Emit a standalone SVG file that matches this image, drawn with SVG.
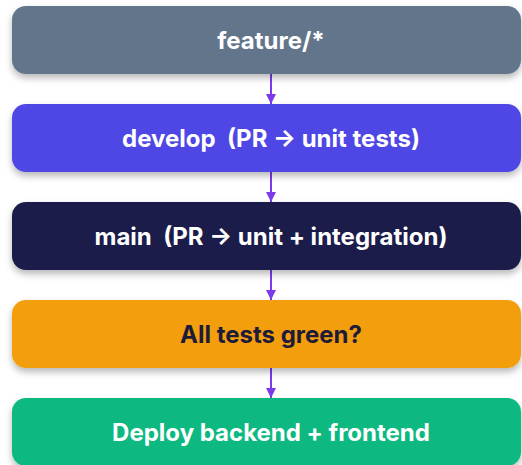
<svg xmlns="http://www.w3.org/2000/svg" width="522" height="465" viewBox="0 0 522 465">
  <defs>
    <filter id="shadow" x="-10%" y="-30%" width="120%" height="170%">
      <feDropShadow dx="0" dy="4" stdDeviation="3.5" flood-color="#000000" flood-opacity="0.28"/>
    </filter>
    <marker id="arrowhead" viewBox="0 0 10 10" refX="10" refY="5" markerWidth="10" markerHeight="10" markerUnits="userSpaceOnUse" orient="auto">
      <path d="M0,0 L10,5 L0,10 z" fill="#7c3aed"/>
    </marker>
  </defs>
  <style>
    .box { filter: url(#shadow); }
    .label { font-family: Inter, "Liberation Sans", sans-serif; font-size: 24px; font-weight: 700; text-anchor: middle; white-space: pre; }
    .light { fill: #ffffff; }
    .dark { fill: #1e1b38; }
    .edge { stroke: #7c3aed; stroke-width: 2; fill: none; marker-end: url(#arrowhead); }
  </style>

  <rect width="522" height="465" fill="#ffffff"/>

  <g id="connectors">
    <line class="edge" x1="271" y1="74" x2="271" y2="104"/>
    <line class="edge" x1="271" y1="172" x2="271" y2="202"/>
    <line class="edge" x1="271" y1="270" x2="271" y2="300"/>
    <line class="edge" x1="271" y1="368" x2="271" y2="398"/>
  </g>

  <g id="feature">
    <rect class="box" x="12" y="6" width="509" height="68" rx="14" fill="#64748b"/>
    <text class="label light" x="271" y="49">feature/*</text>
  </g>

  <g id="develop">
    <rect class="box" x="12" y="104" width="509" height="68" rx="14" fill="#4f46e5"/>
    <text class="label light" x="271" y="147" xml:space="preserve">develop  (PR → unit tests)</text>
  </g>

  <g id="main">
    <rect class="box" x="12" y="202" width="509" height="68" rx="14" fill="#1e1b4b"/>
    <text class="label light" x="271" y="245" xml:space="preserve">main  (PR → unit + integration)</text>
  </g>

  <g id="tests-green">
    <rect class="box" x="12" y="300" width="509" height="68" rx="14" fill="#f29e0c"/>
    <text class="label dark" x="271" y="343">All tests green?</text>
  </g>

  <g id="deploy">
    <rect class="box" x="12" y="398" width="509" height="68" rx="14" fill="#10b981"/>
    <text class="label light" x="271" y="441">Deploy backend + frontend</text>
  </g>
</svg>
